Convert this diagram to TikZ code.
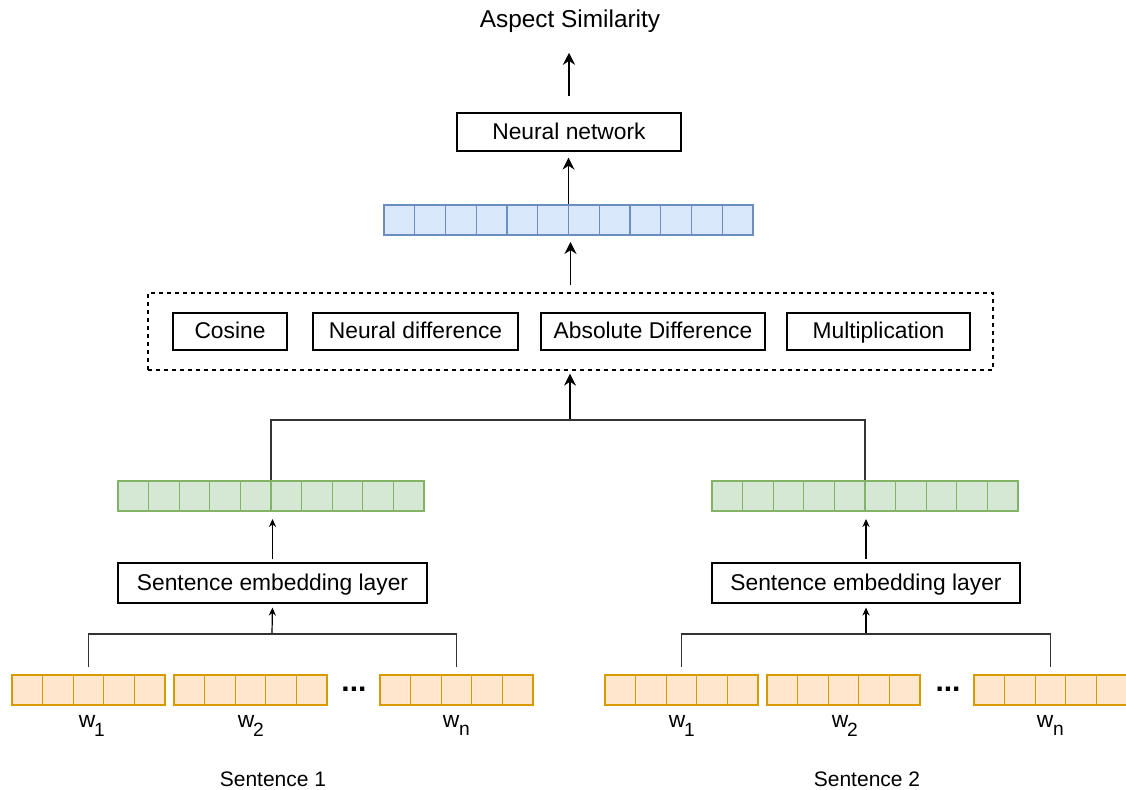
\documentclass[tikz,border=0pt]{standalone}
\usepackage{fontspec}
\setmainfont{Liberation Sans}
\usetikzlibrary{arrows.meta,positioning,fit}
\definecolor{blueline}{HTML}{6C8EBF}\definecolor{bluefill}{HTML}{DAE8FC}
\definecolor{greenline}{HTML}{82B366}\definecolor{greenfill}{HTML}{D5E8D4}
\definecolor{orangeline}{HTML}{D79B00}\definecolor{orangefill}{HTML}{FFE6CC}

\begin{document}
\begin{tikzpicture}[x=0.5pt, y=-0.5pt, box/.style={draw=black, line width=0.6pt, inner sep=0pt, text height=0.72em, text depth=0em, font=\fontsize{11.4}{13}\selectfont}, cell/.style={draw=#1line, fill=#1fill, line width=0.6pt, minimum width=15.3pt, minimum height=15pt, inner sep=0pt}, arr/.style={-{Stealth[length=6pt, width=6pt]}, line width=0.9pt}, arrs/.style={-{Stealth[length=4pt, width=3.6pt]}, line width=0.6pt}, link/.style={draw=black!80, line width=0.65pt}, lbl/.style={font=\fontsize{11.4}{13}\selectfont, inner sep=0pt}, sub/.style={font=\fontsize{9.6}{10}\selectfont, inner sep=0pt}]
\useasboundingbox (0,0) rectangle (1126,790);
\node[font=\fontsize{12.2}{14}\selectfont, inner sep=0pt] (asp) at (570,21) {Aspect Similarity}; \node[box, minimum width=112pt, minimum height=19pt] (nn) at (569,132) {Neural network};
\foreach \i in {1,...,12} \node[cell=blue] (b\i) at ({384+30.75*(\i-0.5)},220) {};
\node[fit=(b1)(b12), inner sep=0pt] (vec) {};
\node[draw=black, dash pattern=on 2pt off 2pt, line width=0.6pt, minimum width=422.5pt, minimum height=38.5pt] (dash) at (570.5,331.5) {};
\node[box, minimum width=57pt, minimum height=18.5pt] (cos) at (230,331.5) {Cosine}; \node[box, minimum width=102.5pt, minimum height=18.5pt] (nd) at (415.5,331.5) {Neural difference}; \node[box, minimum width=112pt, minimum height=18.5pt] (ad) at (653,331.5) {Absolute Difference}; \node[box, minimum width=91.5pt, minimum height=18.5pt] (mul) at (878.5,331.5) {Multiplication};
\coordinate (j) at (570,420);
\foreach \i in {1,...,10} {\node[cell=green] (gl\i) at ({118+30.6*(\i-0.5)},496) {}; \node[cell=green] (gr\i) at ({712+30.6*(\i-0.5)},496) {};}
\node[fit=(gl1)(gl10), inner sep=0pt] (gl) {}; \node[fit=(gr1)(gr10), inner sep=0pt] (gr) {};
\node[box, minimum width=154.5pt, minimum height=20pt] (sel1) at (272.5,583) {Sentence embedding layer}; \node[box, minimum width=154pt, minimum height=20pt] (sel2) at (866,583) {Sentence embedding layer};
\coordinate (k1) at (272,634); \coordinate (k2) at (866,634);
\foreach \name/\x in {s1w1/12, s1w2/174, s1wn/380, s2w1/605, s2w2/767, s2wn/974} {\foreach \i in {1,...,5} \node[cell=orange] (\name-\i) at ({\x+30.6*(\i-0.5)},690) {}; \node[fit=(\name-1)(\name-5), inner sep=0pt] (\name) {};}
\node[font=\fontsize{15}{15}\selectfont\bfseries, inner sep=0pt] (dots1) at (354,689) {...}; \node[font=\fontsize{15}{15}\selectfont\bfseries, inner sep=0pt] (dots2) at (948,689) {...};
\node[lbl] (l11) at (87,721) {w}; \node[sub, right=-1pt of l11, yshift=-4.5pt] (s11) {1}; \node[lbl] (l12) at (246,721) {w}; \node[sub, right=-1pt of l12, yshift=-4.5pt] (s12) {2}; \node[lbl] (l1n) at (451,721) {w}; \node[sub, right=-0.5pt of l1n, yshift=-4.5pt] (s1n) {n};
\node[lbl] (l21) at (677,721) {w}; \node[sub, right=-1pt of l21, yshift=-4.5pt] (s21) {1}; \node[lbl] (l22) at (840,721) {w}; \node[sub, right=-1pt of l22, yshift=-4.5pt] (s22) {2}; \node[lbl] (l2n) at (1045,721) {w}; \node[sub, right=-0.5pt of l2n, yshift=-4.5pt] (s2n) {n};
\node[font=\fontsize{10.5}{12}\selectfont, inner sep=0pt] (sen1) at (273,779) {Sentence 1}; \node[font=\fontsize{10.5}{12}\selectfont, inner sep=0pt] (sen2) at (867,779) {Sentence 2};
\draw[arr, shorten <=8pt, shorten >=10pt] (nn.north) -- (nn.north |- asp.south); \draw[arr, shorten >=3pt] (vec.north) -- (vec.north |- nn.south); \draw[arr, shorten <=3.5pt, shorten >=3pt] (dash.north) -- (dash.north |- vec.south); \draw[arr, shorten >=1.5pt] (j) -- (j |- dash.south);
\draw[link] (gl.north) |- (j) -| (gr.north);
\draw[arrs, shorten <=1.5pt, shorten >=3.5pt] (sel1.north) -- (sel1.north |- gl.south); \draw[arrs, shorten <=1.5pt, shorten >=3.5pt] (sel2.north) -- (sel2.north |- gr.south);
\draw[arrs, shorten >=2pt] (k1) -- (sel1.south); \draw[arrs, shorten >=2pt] (k2) -- (sel2.south);
\draw[link, shorten <=3.5pt, shorten >=3.5pt] (s1w1.north) |- (k1) -| (s1wn.north); \draw[link, shorten <=3.5pt, shorten >=3.5pt] (s2w1.north) |- (k2) -| (s2wn.north);
\end{tikzpicture}
\end{document}
